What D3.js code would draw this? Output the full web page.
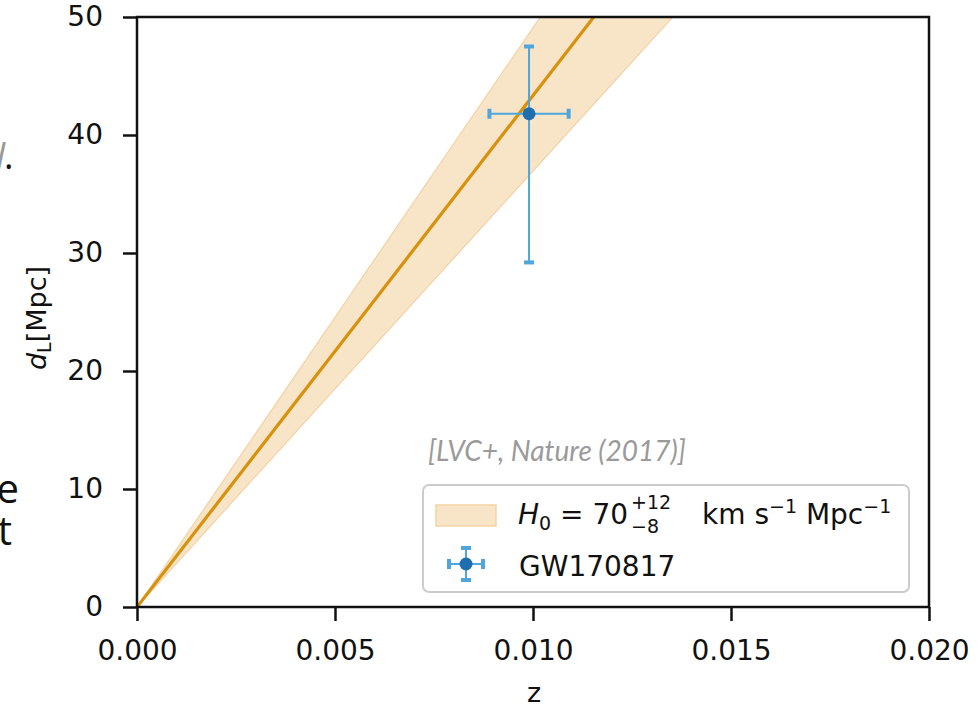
<!DOCTYPE html>
<html>
<head>
<meta charset="utf-8">
<script src="https://cdn.jsdelivr.net/npm/d3@7"></script>
<style>
  body { margin: 0; background: #fff; }
  svg text { font-family: "DejaVu Sans", sans-serif; fill: #111; }
</style>
</head>
<body>
<script>
// Hubble-law line and band (z -> d_L in Mpc)
var zLine = [0, 0.02]
var dCentral = [0, 86.7]   // H0 = 70
var dLow = [0, 73.9]       // H0 = 82
var dHigh = [0, 98.2]      // H0 = 62

// GW170817 point with error bars
var gwZ = [0.0099]
var gwD = [41.8]
var gwZerr = [0.001]
var gwDlo = [29.2]
var gwDhi = [47.5]

var xTicks = [0, 0.005, 0.01, 0.015, 0.02]
var yTicks = [0, 10, 20, 30, 40, 50]

var W = 978, H = 708
var mLeft = 137, mRight = 929, mTop = 17, mBottom = 607

var svg = d3.select('body').append('svg')
  .attr('width', W)
  .attr('height', H)

var x = d3.scaleLinear().domain([0, 0.02]).range([mLeft, mRight])
var y = d3.scaleLinear().domain([0, 50]).range([mBottom, mTop])

svg.append('clipPath').attr('id', 'clip')
  .append('rect')
  .attr('x', mLeft).attr('y', mTop)
  .attr('width', mRight - mLeft).attr('height', mBottom - mTop)

var plot = svg.append('g').attr('clip-path', 'url(#clip)')

var bandPts = zLine.map(function(z, i) { return {z: z, lo: dLow[i], hi: dHigh[i]} })
plot.append('path')
  .datum(bandPts)
  .attr('d', d3.area().x(function(d) { return x(d.z) }).y0(function(d) { return y(d.lo) }).y1(function(d) { return y(d.hi) }))
  .attr('fill', '#f8e4c6')
  .attr('stroke', '#f2d3a6')
  .attr('stroke-width', 1.2)

plot.append('path')
  .datum(zLine.map(function(z, i) { return [z, dCentral[i]] }))
  .attr('d', d3.line().x(function(d) { return x(d[0]) }).y(function(d) { return y(d[1]) }))
  .attr('fill', 'none')
  .attr('stroke', '#d8910d')
  .attr('stroke-width', 3.2)

// error bars
var eb = svg.append('g')
var errColor = '#4ea6dc'
gwZ.forEach(function(z, i) {
  var cx = x(z), cy = y(gwD[i])
  var x0 = x(z - gwZerr[i]), x1 = x(z + gwZerr[i])
  var y0 = y(gwDlo[i]), y1 = y(gwDhi[i])
  eb.append('line').attr('x1', x0).attr('x2', x1).attr('y1', cy).attr('y2', cy)
    .attr('stroke', errColor).attr('stroke-width', 2)
  eb.append('line').attr('x1', cx).attr('x2', cx).attr('y1', y0).attr('y2', y1)
    .attr('stroke', errColor).attr('stroke-width', 2)
  ;[x0, x1].forEach(function(xx) {
    eb.append('line').attr('x1', xx).attr('x2', xx).attr('y1', cy - 5).attr('y2', cy + 5)
      .attr('stroke', errColor).attr('stroke-width', 4)
  })
  ;[y0, y1].forEach(function(yy) {
    eb.append('line').attr('y1', yy).attr('y2', yy).attr('x1', cx - 5).attr('x2', cx + 5)
      .attr('stroke', errColor).attr('stroke-width', 4)
  })
  eb.append('circle').attr('cx', cx).attr('cy', cy).attr('r', 6.5).attr('fill', '#1f6eb0')
})

// axes
var xAxis = svg.append('g').attr('transform', 'translate(0,' + mBottom + ')')
  .call(d3.axisBottom(x).tickValues(xTicks).tickFormat(d3.format('.3f')).tickSizeOuter(0).tickSize(14).tickPadding(19))
var yAxis = svg.append('g').attr('transform', 'translate(' + mLeft + ',0)')
  .call(d3.axisLeft(y).tickValues(yTicks).tickFormat(d3.format('d')).tickSizeOuter(0).tickSize(14).tickPadding(20))
;[xAxis, yAxis].forEach(function(a) {
  a.selectAll('path').remove()
  a.selectAll('line').attr('stroke', '#111').attr('stroke-width', 2.5)
  a.selectAll('text').attr('font-size', 28).attr('fill', '#111')
})

svg.append('rect')
  .attr('x', mLeft).attr('y', mTop)
  .attr('width', mRight - mLeft).attr('height', mBottom - mTop)
  .attr('fill', 'none').attr('stroke', '#111').attr('stroke-width', 2.5)

svg.append('text').attr('x', 534).attr('y', 702)
  .attr('text-anchor', 'middle').attr('font-size', 27).text('z')

var yl = svg.append('text')
  .attr('transform', 'translate(46,' + ((mTop + mBottom) / 2 + 6) + ') rotate(-90)')
  .attr('text-anchor', 'middle').attr('font-size', 27)
yl.append('tspan').attr('font-style', 'italic').text('d')
yl.append('tspan').attr('font-size', 19).attr('dy', 5).text('L')
yl.append('tspan').attr('dy', -5).text('[Mpc]')

// source note
svg.append('text').attr('x', 428).attr('y', 461)
  .attr('font-size', 28).attr('font-style', 'italic')
  .style('font-family', 'Lato, sans-serif').style('fill', '#9a9a9a')
  .text('[LVC+, Nature (2017)]')

// legend
var lg = svg.append('g')
lg.append('rect').attr('x', 423).attr('y', 485).attr('width', 486).attr('height', 107)
  .attr('rx', 6).attr('fill', 'rgba(255,255,255,0.85)').attr('stroke', '#cccccc').attr('stroke-width', 2)
lg.append('rect').attr('x', 436).attr('y', 505).attr('width', 60).attr('height', 21)
  .attr('fill', '#f8e4c6').attr('stroke', '#f2d3a6').attr('stroke-width', 1.5)
var t1 = lg.append('text').attr('x', 518).attr('y', 524).attr('font-size', 28)
t1.append('tspan').attr('font-style', 'italic').text('H')
t1.append('tspan').attr('font-size', 19).attr('dy', 6).text('0')
t1.append('tspan').attr('dy', -6).text(' = 70')
lg.append('text').attr('x', 631).attr('y', 509).attr('font-size', 19).text('+12')
lg.append('text').attr('x', 631).attr('y', 533).attr('font-size', 19).text('\u22128')
var t2 = lg.append('text').attr('x', 702).attr('y', 524).attr('font-size', 28)
t2.append('tspan').text('km s')
t2.append('tspan').attr('font-size', 19).attr('dy', -11).text('\u22121')
t2.append('tspan').attr('dy', 11).text(' Mpc')
t2.append('tspan').attr('font-size', 19).attr('dy', -11).text('\u22121')
lg.append('text').attr('x', 519).attr('y', 576).attr('font-size', 28).text('GW170817')
var ix = 466, iy = 564
lg.append('line').attr('x1', ix - 17).attr('x2', ix + 17).attr('y1', iy).attr('y2', iy).attr('stroke', errColor).attr('stroke-width', 2)
lg.append('line').attr('x1', ix).attr('x2', ix).attr('y1', iy - 16).attr('y2', iy + 16).attr('stroke', errColor).attr('stroke-width', 2)
;[ix - 17, ix + 17].forEach(function(xx) {
  lg.append('line').attr('x1', xx).attr('x2', xx).attr('y1', iy - 5).attr('y2', iy + 5).attr('stroke', errColor).attr('stroke-width', 4)
})
;[iy - 16, iy + 16].forEach(function(yy) {
  lg.append('line').attr('y1', yy).attr('y2', yy).attr('x1', ix - 5).attr('x2', ix + 5).attr('stroke', errColor).attr('stroke-width', 4)
})
lg.append('circle').attr('cx', ix).attr('cy', iy).attr('r', 6.5).attr('fill', '#1f6eb0')

// clipped slide text at the left edge
svg.append('text').attr('x', -4).attr('y', 169).attr('font-size', 36)
  .attr('font-style', 'italic').style('fill', '#999').style('font-family', '"Open Sans", sans-serif').text('l')
svg.append('text').attr('x', 4).attr('y', 169).attr('font-size', 36)
  .style('font-family', '"Open Sans", sans-serif').text('.')
svg.append('text').attr('x', 19).attr('y', 503).attr('font-size', 40).attr('text-anchor', 'end')
  .style('font-family', '"Open Sans", sans-serif').text('e')
svg.append('text').attr('x', 12).attr('y', 545).attr('font-size', 40).attr('text-anchor', 'end')
  .style('font-family', '"Open Sans", sans-serif').text('t')
</script>
</body>
</html>
